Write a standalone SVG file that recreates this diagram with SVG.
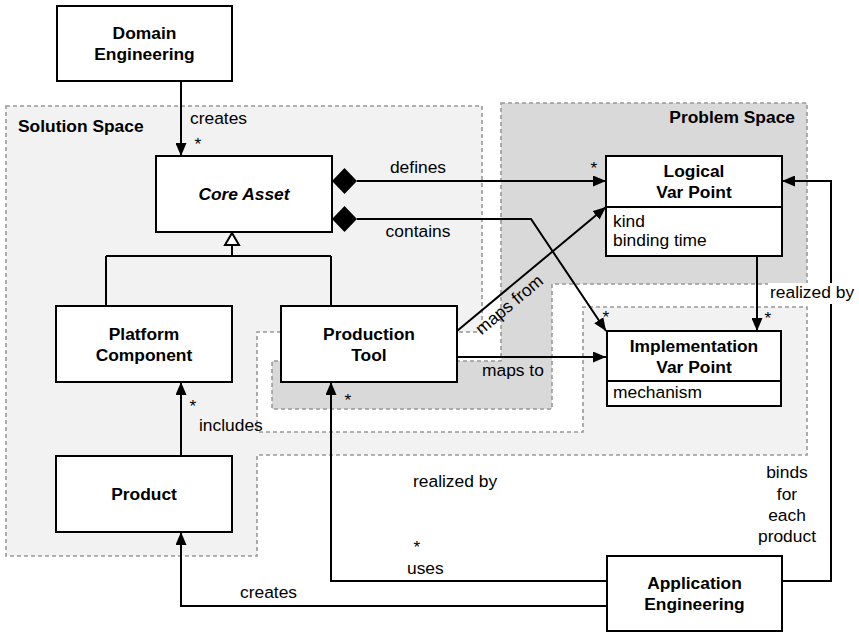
<svg xmlns="http://www.w3.org/2000/svg" width="859" height="640" viewBox="0 0 859 640">
<defs>
<marker id="arr" viewBox="0 0 13 11" refX="13" refY="5.5" markerWidth="13" markerHeight="11" orient="auto" markerUnits="userSpaceOnUse">
<path d="M0,0 L13,5.5 L0,11 z" fill="#000"/>
</marker>
<style>
text{font-family:"Liberation Sans",Arial,sans-serif;font-size:17.4px;fill:#000}
.b{font-weight:bold}
.bi{font-weight:bold;font-style:italic}
.m{text-anchor:middle}
.e{text-anchor:end}
.box{fill:#fff;stroke:#000;stroke-width:2}
.reg{stroke:#999;stroke-width:1.6;stroke-dasharray:4 3}
.c{fill:none;stroke:#000;stroke-width:2}
</style>
</defs>
<rect width="859" height="640" fill="#fff"/>
<g id="solution-space">
<path class="reg" fill="#f2f2f2" d="M6,106 H482 V332 H257 V432 H583 V307 H807 V455 H257 V556 H6 Z"/>
<text class="b" x="18" y="132">Solution Space</text>
</g>
<g id="problem-space">
<path class="reg" fill="#d9d9d9" d="M501,103 H807 V284 H552 V409 H272 V361 H501 Z"/>
<text class="b e" x="795" y="123">Problem Space</text>
</g>
<g id="connectors">
<path class="c" d="M181,81 V156" marker-end="url(#arr)"/>
<path class="c" d="M357,181 H606" marker-end="url(#arr)"/>
<path class="c" d="M357,219 H531 L606,331" marker-end="url(#arr)"/>
<polygon points="332,181 344.5,168 357,181 344.5,194" fill="#000"/>
<polygon points="332,219 344.5,206 357,219 344.5,232" fill="#000"/>
<path class="c" d="M232,245 V256 M106,256 H331 M106,256 V306 M331,256 V306"/>
<polygon points="232,233 225,245 239,245" fill="#fff" stroke="#000" stroke-width="2"/>
<path class="c" d="M457,331 L606,207" marker-end="url(#arr)"/>
<path class="c" d="M457,357 H606" marker-end="url(#arr)"/>
<path class="c" d="M757,256 V331" marker-end="url(#arr)"/>
<path class="c" d="M181,456 V382" marker-end="url(#arr)"/>
<path class="c" d="M607,581 H331 V382" marker-end="url(#arr)"/>
<path class="c" d="M607,606 H181 V532" marker-end="url(#arr)"/>
<path class="c" d="M782,581 H831 V181 H782" marker-end="url(#arr)"/>
<text x="190" y="124">creates</text>
<text class="m" x="198" y="150">*</text>
<text class="m" x="418" y="173">defines</text>
<text class="m" x="418" y="237">contains</text>
<text class="m" x="594" y="174">*</text>
<text class="m" x="513" y="309" transform="rotate(-40 513 309)">maps from</text>
<text x="482" y="376">maps to</text>
<text class="m" x="606" y="323">*</text>
<text class="m" x="768" y="324">*</text>
<rect x="768" y="283" width="89" height="21" fill="#fff"/>
<text x="770" y="298">realized by</text>
<text class="m" x="193" y="412">*</text>
<text x="199" y="431">includes</text>
<text class="m" x="348" y="406">*</text>
<text x="413" y="487">realized by</text>
<text class="m" x="417" y="553">*</text>
<text x="407" y="574">uses</text>
<text x="240" y="598">creates</text>
<text class="m" x="787" y="478">binds</text>
<text class="m" x="787" y="500">for</text>
<text class="m" x="787" y="521">each</text>
<text class="m" x="787" y="542">product</text>
</g>
<g id="domain-engineering">
<rect class="box" x="57" y="6" width="175" height="75"/>
<text class="b m" x="144.5" y="39">Domain</text>
<text class="b m" x="144.5" y="60">Engineering</text>
</g>
<g id="core-asset">
<rect class="box" x="156" y="156" width="176" height="76"/>
<text class="bi m" x="244" y="200">Core Asset</text>
</g>
<g id="logical-var-point">
<rect class="box" x="606" y="156" width="176" height="100"/>
<line x1="606" y1="207" x2="782" y2="207" stroke="#000" stroke-width="2"/>
<text class="b m" x="694" y="177">Logical</text>
<text class="b m" x="694" y="198">Var Point</text>
<text x="613" y="227">kind</text>
<text x="613" y="246">binding time</text>
</g>
<g id="platform-component">
<rect class="box" x="56" y="306" width="176" height="76"/>
<text class="b m" x="144" y="339.5">Platform</text>
<text class="b m" x="144" y="360.5">Component</text>
</g>
<g id="production-tool">
<rect class="box" x="281" y="306" width="176" height="76"/>
<text class="b m" x="369" y="339.5">Production</text>
<text class="b m" x="369" y="360.5">Tool</text>
</g>
<g id="implementation-var-point">
<rect class="box" x="607" y="331" width="174" height="75"/>
<line x1="607" y1="381" x2="781" y2="381" stroke="#000" stroke-width="2"/>
<text class="b m" x="694" y="351.5">Implementation</text>
<text class="b m" x="694" y="372.5">Var Point</text>
<text x="613" y="398">mechanism</text>
</g>
<g id="product">
<rect class="box" x="56" y="456" width="176" height="76"/>
<text class="b m" x="144" y="500">Product</text>
</g>
<g id="application-engineering">
<rect class="box" x="607" y="556" width="175" height="75"/>
<text class="b m" x="694.5" y="589">Application</text>
<text class="b m" x="694.5" y="610">Engineering</text>
</g>
</svg>
